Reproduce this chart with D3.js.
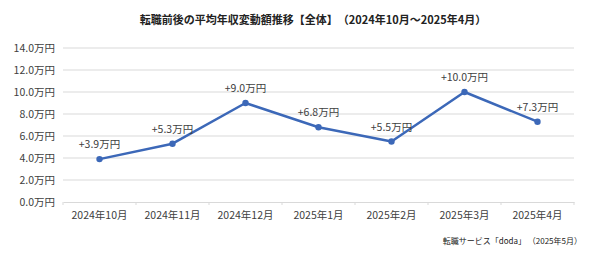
<!DOCTYPE html>
<html><head><meta charset="utf-8">
<script src="https://cdn.jsdelivr.net/npm/d3@7"></script>
<style>body{margin:0;background:#fff}svg{display:block}text{font-family:"Noto Sans CJK JP","Noto Sans",sans-serif}</style>
</head><body>
<svg id="c" width="600" height="253"></svg>
<script>
const categories = ["2024年10月","2024年11月","2024年12月","2025年1月","2025年2月","2025年3月","2025年4月"];
const values = [3.9, 5.3, 9.0, 6.8, 5.5, 10.0, 7.3];
const yTicks = [0, 2, 4, 6, 8, 10, 12, 14];
const title = "転職前後の平均年収変動額推移【全体】　（2024年10月～2025年4月）";
const source = "転職サービス「doda」 （2025年5月）";

const svg = d3.select("#c");
const m = {l:63, r:574, t:48, b:202};
const x = d3.scaleBand().domain(categories).range([m.l, m.r]);
const y = d3.scaleLinear().domain([0,14]).range([m.b, m.t]);

svg.append("text").attr("x",313).attr("y",24).attr("text-anchor","middle")
  .attr("font-size",11).attr("font-weight","bold").attr("fill","#222").text(title);

// gridlines
svg.append("g").selectAll("line").data(yTicks.filter(d=>d>0)).join("line")
  .attr("x1",m.l).attr("x2",m.r).attr("y1",d=>y(d)).attr("y2",d=>y(d))
  .attr("stroke","#d9d9d9").attr("stroke-width",1);

// y axis labels
const ya = svg.append("g").attr("transform",`translate(${m.l},0)`)
  .call(d3.axisLeft(y).tickValues(yTicks).tickSize(0).tickPadding(8).tickFormat(d=>d3.format(".1f")(d)+"万円"));
ya.select(".domain").remove();
ya.selectAll("text").attr("font-size",10.5).attr("fill","#404040").style("font-family",'"Noto Sans CJK JP",sans-serif');

// x axis
const xa = svg.append("g").attr("transform",`translate(0,${m.b})`)
  .call(d3.axisBottom(x).tickSize(0).tickPadding(10));
xa.select(".domain").attr("stroke","#d9d9d9");
xa.selectAll("text").attr("font-size",10.5).attr("fill","#404040").style("font-family",'"Noto Sans CJK JP",sans-serif');
svg.append("g").selectAll("line").data(d3.range(categories.length+1)).join("line")
  .attr("x1",i=>m.l+i*x.step()).attr("x2",i=>m.l+i*x.step())
  .attr("y1",m.b).attr("y2",m.b+3).attr("stroke","#d9d9d9");

const cx = d=>x(d)+x.bandwidth()/2;
const pts = categories.map((c,i)=>[cx(c), y(values[i])]);
svg.append("path").attr("d",d3.line()(pts)).attr("fill","none")
  .attr("stroke","#3c68b8").attr("stroke-width",2.5).attr("stroke-linejoin","round");
svg.append("g").selectAll("circle").data(pts).join("circle")
  .attr("cx",d=>d[0]).attr("cy",d=>d[1]).attr("r",3.2).attr("fill","#3c68b8");
svg.append("g").selectAll("text").data(categories).join("text")
  .attr("x",c=>cx(c)).attr("y",(c,i)=>y(values[i])-11).attr("text-anchor","middle")
  .attr("font-size",10.5).attr("fill","#404040").text((c,i)=>"+"+d3.format(".1f")(values[i])+"万円");

svg.append("text").attr("x",582).attr("y",244).attr("text-anchor","end")
  .attr("font-size",8).attr("fill","#222").text(source);
</script>
</body></html>
